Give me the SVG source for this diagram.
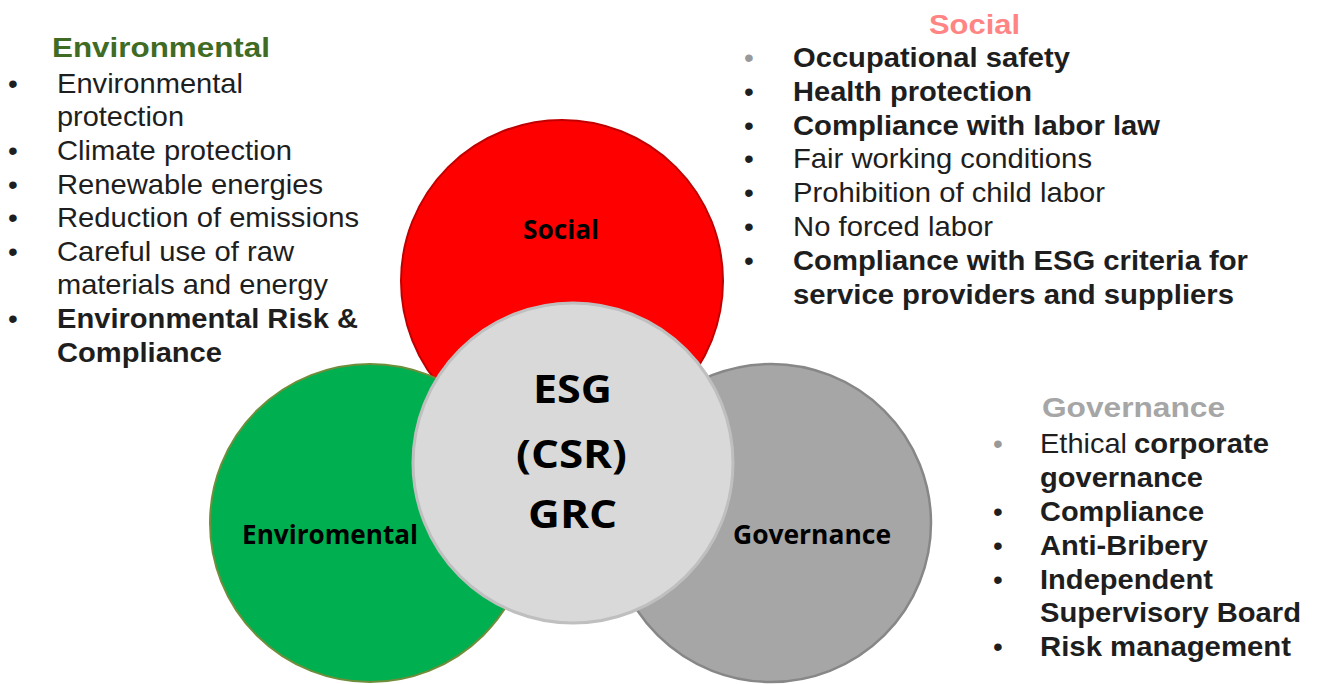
<svg xmlns="http://www.w3.org/2000/svg" width="1319" height="684" viewBox="0 0 1319 684">
<style>
.lst{font-family:"Liberation Sans",Arial,sans-serif;font-size:28px;fill:#1e1e1e}
.b{font-weight:bold}
.bul{font-family:"Liberation Sans",Arial,sans-serif;font-size:28px;fill:#1e1e1e}
.lbl{font-family:"Open Sans",sans-serif;font-weight:bold;fill:#000;text-anchor:middle}
</style>
<rect width="1319" height="684" fill="#fff"/>
<g id="node-social">
<ellipse cx="562" cy="281" rx="161" ry="161" fill="#ff0000" stroke="#c00000" stroke-width="2"/>
<text class="lbl" x="561" y="239" font-size="27.5" textLength="76" lengthAdjust="spacingAndGlyphs">Social</text>
</g>
<g id="node-environmental">
<ellipse cx="370" cy="523" rx="160" ry="159" fill="#00b050" stroke="#6f8d3a" stroke-width="2"/>
<text class="lbl" x="330" y="544" font-size="27" textLength="176" lengthAdjust="spacingAndGlyphs">Enviromental</text>
</g>
<g id="node-governance">
<ellipse cx="771" cy="523" rx="160" ry="159" fill="#a6a6a6" stroke="#878787" stroke-width="2.5"/>
<text class="lbl" x="812" y="544" font-size="27" textLength="158" lengthAdjust="spacingAndGlyphs">Governance</text>
</g>
<g id="node-center">
<ellipse cx="573" cy="463" rx="160" ry="160" fill="#d9d9d9" stroke="#bfbfbf" stroke-width="3"/>
<text class="lbl" x="572.5" y="403" font-size="40" textLength="79" lengthAdjust="spacingAndGlyphs">ESG</text>
<text class="lbl" x="571.5" y="468" font-size="40" textLength="111" lengthAdjust="spacingAndGlyphs">(CSR)</text>
<text class="lbl" x="572.5" y="528" font-size="40" textLength="89" lengthAdjust="spacingAndGlyphs">GRC</text>
</g>
<g id="connectors"></g>
<g id="text-environmental">
<text class="lst b" x="52" y="57" style="fill:#3f6b24" textLength="218" lengthAdjust="spacingAndGlyphs">Environmental</text>
<text class="bul" x="8" y="93">•</text>
<text class="bul" x="8" y="160">•</text>
<text class="bul" x="8" y="194">•</text>
<text class="bul" x="8" y="227">•</text>
<text class="bul" x="8" y="261">•</text>
<text class="bul" x="8" y="328">•</text>
<text class="lst" x="57" y="93" textLength="186" lengthAdjust="spacingAndGlyphs">Environmental</text>
<text class="lst" x="57" y="126" textLength="127" lengthAdjust="spacingAndGlyphs">protection</text>
<text class="lst" x="57" y="160" textLength="235" lengthAdjust="spacingAndGlyphs">Climate protection</text>
<text class="lst" x="57" y="194" textLength="266" lengthAdjust="spacingAndGlyphs">Renewable energies</text>
<text class="lst" x="57" y="227" textLength="302" lengthAdjust="spacingAndGlyphs">Reduction of emissions</text>
<text class="lst" x="57" y="261" textLength="237" lengthAdjust="spacingAndGlyphs">Careful use of raw</text>
<text class="lst" x="57" y="294" textLength="271" lengthAdjust="spacingAndGlyphs">materials and energy</text>
<text class="lst b" x="57" y="328" textLength="301" lengthAdjust="spacingAndGlyphs">Environmental Risk &amp;</text>
<text class="lst b" x="57" y="362" textLength="165" lengthAdjust="spacingAndGlyphs">Compliance</text>
</g>
<g id="text-social">
<text class="lst b" x="929" y="34" style="fill:#ff8585" textLength="91" lengthAdjust="spacingAndGlyphs">Social</text>
<text class="bul" x="744" y="67" style="fill:#999">•</text>
<text class="bul" x="744" y="101">•</text>
<text class="bul" x="744" y="135">•</text>
<text class="bul" x="744" y="168">•</text>
<text class="bul" x="744" y="202">•</text>
<text class="bul" x="744" y="236">•</text>
<text class="bul" x="744" y="270">•</text>
<text class="lst b" x="793" y="67" textLength="277" lengthAdjust="spacingAndGlyphs">Occupational safety</text>
<text class="lst b" x="793" y="101" textLength="239" lengthAdjust="spacingAndGlyphs">Health protection</text>
<text class="lst b" x="793" y="135" textLength="367" lengthAdjust="spacingAndGlyphs">Compliance with labor law</text>
<text class="lst" x="793" y="168" textLength="299" lengthAdjust="spacingAndGlyphs">Fair working conditions</text>
<text class="lst" x="793" y="202" textLength="312" lengthAdjust="spacingAndGlyphs">Prohibition of child labor</text>
<text class="lst" x="793" y="236" textLength="200" lengthAdjust="spacingAndGlyphs">No forced labor</text>
<text class="lst b" x="793" y="270" textLength="455" lengthAdjust="spacingAndGlyphs">Compliance with ESG criteria for</text>
<text class="lst b" x="793" y="304" textLength="441" lengthAdjust="spacingAndGlyphs">service providers and suppliers</text>
</g>
<g id="text-governance">
<text class="lst b" x="1042" y="417" style="fill:#a6a6a6" textLength="183" lengthAdjust="spacingAndGlyphs">Governance</text>
<text class="bul" x="993" y="453" style="fill:#999">•</text>
<text class="bul" x="993" y="521">•</text>
<text class="bul" x="993" y="555">•</text>
<text class="bul" x="993" y="589">•</text>
<text class="bul" x="993" y="656">•</text>
<text class="lst" x="1040" y="453" textLength="87" lengthAdjust="spacingAndGlyphs">Ethical</text>
<text class="lst b" x="1134" y="453" textLength="135" lengthAdjust="spacingAndGlyphs">corporate</text>
<text class="lst b" x="1040" y="487" textLength="163" lengthAdjust="spacingAndGlyphs">governance</text>
<text class="lst b" x="1040" y="521" textLength="164" lengthAdjust="spacingAndGlyphs">Compliance</text>
<text class="lst b" x="1040" y="555" textLength="168" lengthAdjust="spacingAndGlyphs">Anti-Bribery</text>
<text class="lst b" x="1040" y="589" textLength="173" lengthAdjust="spacingAndGlyphs">Independent</text>
<text class="lst b" x="1040" y="622" textLength="261" lengthAdjust="spacingAndGlyphs">Supervisory Board</text>
<text class="lst b" x="1040" y="656" textLength="251" lengthAdjust="spacingAndGlyphs">Risk management</text>
</g>
</svg>
